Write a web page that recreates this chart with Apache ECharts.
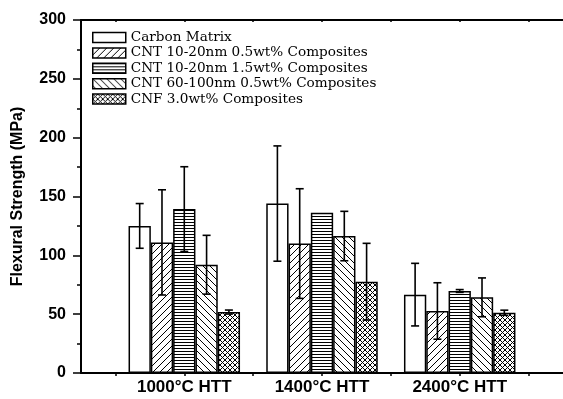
<!DOCTYPE html>
<html>
<head>
<meta charset="utf-8">
<script src="https://cdn.jsdelivr.net/npm/echarts@6/dist/echarts.min.js"></script>
<style>
html,body{margin:0;padding:0;background:#fff;}
#chart{width:563px;height:399px;}
</style>
</head>
<body>
<div id="chart"></div>
<script>
// ---- data ----
const categories = ['1000\u00B0C HTT', '1400\u00B0C HTT', '2400\u00B0C HTT'];
const seriesNames = [
  'Carbon Matrix',
  'CNT 10-20nm 0.5wt% Composites',
  'CNT 10-20nm 1.5wt% Composites',
  'CNT 60-100nm 0.5wt% Composites',
  'CNF 3.0wt% Composites'
];
const carbonMatrix      = [125.0, 144.0, 66.6];
const carbonMatrixErr   = [19.0, 49.0, 26.6];
const cnt1020_05        = [111.0, 110.0, 52.7];
const cnt1020_05Err     = [44.7, 46.6, 24.0];
const cnt1020_15        = [139.3, 136.2, 69.7];
const cnt1020_15Err     = [36.0, 0, 1.2];
const cnt60100_05       = [92.0, 116.4, 64.3];
const cnt60100_05Err    = [25.0, 21.0, 16.5];
const cnf30             = [51.8, 77.6, 51.2];
const cnf30Err          = [1.7, 32.6, 2.2];
const yMin = 0, yMax = 300, yInterval = 50;

const allValues = [carbonMatrix, cnt1020_05, cnt1020_15, cnt60100_05, cnf30];
const allErrors = [carbonMatrixErr, cnt1020_05Err, cnt1020_15Err, cnt60100_05Err, cnf30Err];

// ---- patterns ----
function makePattern(type) {
  const sizes = {none: 4, slash: 7, back: 7, hline: 3, cross: 5};
  const s = sizes[type];
  const c = document.createElement('canvas');
  c.width = s; c.height = s;
  const g = c.getContext('2d');
  g.fillStyle = '#fff';
  g.fillRect(0, 0, s, s);
  g.strokeStyle = '#000';
  g.lineWidth = 1;
  g.beginPath();
  if (type === 'slash' || type === 'cross') {
    for (let k = -s; k <= s; k += s) { g.moveTo(k, s); g.lineTo(k + s, 0); }
  }
  if (type === 'back' || type === 'cross') {
    for (let k = -s; k <= s; k += s) { g.moveTo(k, 0); g.lineTo(k + s, s); }
  }
  if (type === 'hline') { g.moveTo(0, 0.5); g.lineTo(s, 0.5); }
  g.stroke();
  return {image: c, repeat: 'repeat'};
}
const patterns = ['none', 'slash', 'hline', 'back', 'cross'].map(makePattern);

const barW = 22.3;

const barSeries = seriesNames.map((name, i) => ({
  name: name,
  type: 'bar',
  barWidth: barW,
  barGap: '0%',
  data: allValues[i].map((v, j) => [j + 1, v]),
  itemStyle: {color: patterns[i], borderColor: '#000', borderWidth: 1.5},
  z: 2
}));

const errData = [];
allValues.forEach((vals, i) => vals.forEach((v, j) => errData.push([j + 1, i, v, allErrors[i][j]])));

const errSeries = {
  type: 'custom',
  name: 'err',
  z: 5,
  encode: {x: 0, y: 2},
  data: errData,
  renderItem: function (params, api) {
    const x = api.value(0), idx = api.value(1), m = api.value(2), e = api.value(3);
    if (!e) return null;
    const top = api.coord([x, m + e]);
    const bot = api.coord([x, m - e]);
    const cx = top[0] + (idx - 2) * barW;
    const cap = 4;
    const st = {stroke: '#000', lineWidth: 1.6};
    return {
      type: 'group',
      children: [
        {type: 'line', shape: {x1: cx, y1: top[1], x2: cx, y2: bot[1]}, style: st},
        {type: 'line', shape: {x1: cx - cap, y1: top[1], x2: cx + cap, y2: top[1]}, style: st},
        {type: 'line', shape: {x1: cx - cap, y1: bot[1], x2: cx + cap, y2: bot[1]}, style: st}
      ]
    };
  }
};

const chart = echarts.init(document.getElementById('chart'), null, {renderer: 'canvas'});
chart.setOption({
  animation: false,
  backgroundColor: '#fff',
  grid: {left: 81, right: -3, top: 20, bottom: 26, containLabel: false},
  legend: {
    data: seriesNames,
    orient: 'vertical',
    left: 92,
    top: 30,
    padding: 0,
    itemWidth: 33,
    itemHeight: 10,
    itemGap: 0.4,
    icon: 'rect',
    itemStyle: {borderColor: '#000', borderWidth: 1.5},
    textStyle: {fontFamily: 'DejaVu Serif', fontSize: 13.6, color: '#000', lineHeight: 15, padding: [0, 0, 0, 0]}
  },
  xAxis: [{
    type: 'value',
    min: 0.25,
    max: 3.75,
    splitLine: {show: false},
    axisLine: {show: true, onZero: false, lineStyle: {color: '#000', width: 2}},
    axisTick: {show: true, customValues: [0.5, 1, 1.5, 2, 2.5, 3, 3.5], length: 3, lineStyle: {color: '#000', width: 1.5}},
    axisLabel: {
      customValues: [1, 2, 3],
      formatter: v => categories[Math.round(v) - 1],
      color: '#000', fontFamily: 'Liberation Sans', fontWeight: 'bold', fontSize: 17, margin: 6
    }
  }, {
    type: 'value',
    position: 'top',
    min: 0.25,
    max: 3.75,
    splitLine: {show: false},
    axisLine: {show: true, onZero: false, lineStyle: {color: '#000', width: 2}},
    axisTick: {show: true, inside: true, customValues: [0.5, 1, 1.5, 2, 2.5, 3, 3.5], length: 2, lineStyle: {color: '#000', width: 1.5}},
    axisLabel: {show: false}
  }],
  yAxis: {
    type: 'value',
    min: yMin,
    max: yMax,
    interval: yInterval,
    name: 'Flexural Strength (MPa)',
    nameLocation: 'middle',
    nameGap: 55,
    nameTextStyle: {color: '#000', fontFamily: 'Liberation Sans', fontWeight: 'bold', fontSize: 16},
    splitLine: {show: false},
    axisLine: {show: true, lineStyle: {color: '#000', width: 2}},
    axisTick: {show: true, length: 8, lineStyle: {color: '#000', width: 1.5}},
    minorTick: {show: true, splitNumber: 2, length: 4, lineStyle: {color: '#000', width: 1.5}},
    axisLabel: {color: '#000', fontFamily: 'Liberation Sans', fontWeight: 'bold', fontSize: 16, margin: 15}
  },
  series: [...barSeries, errSeries]
});
</script>
</body>
</html>
